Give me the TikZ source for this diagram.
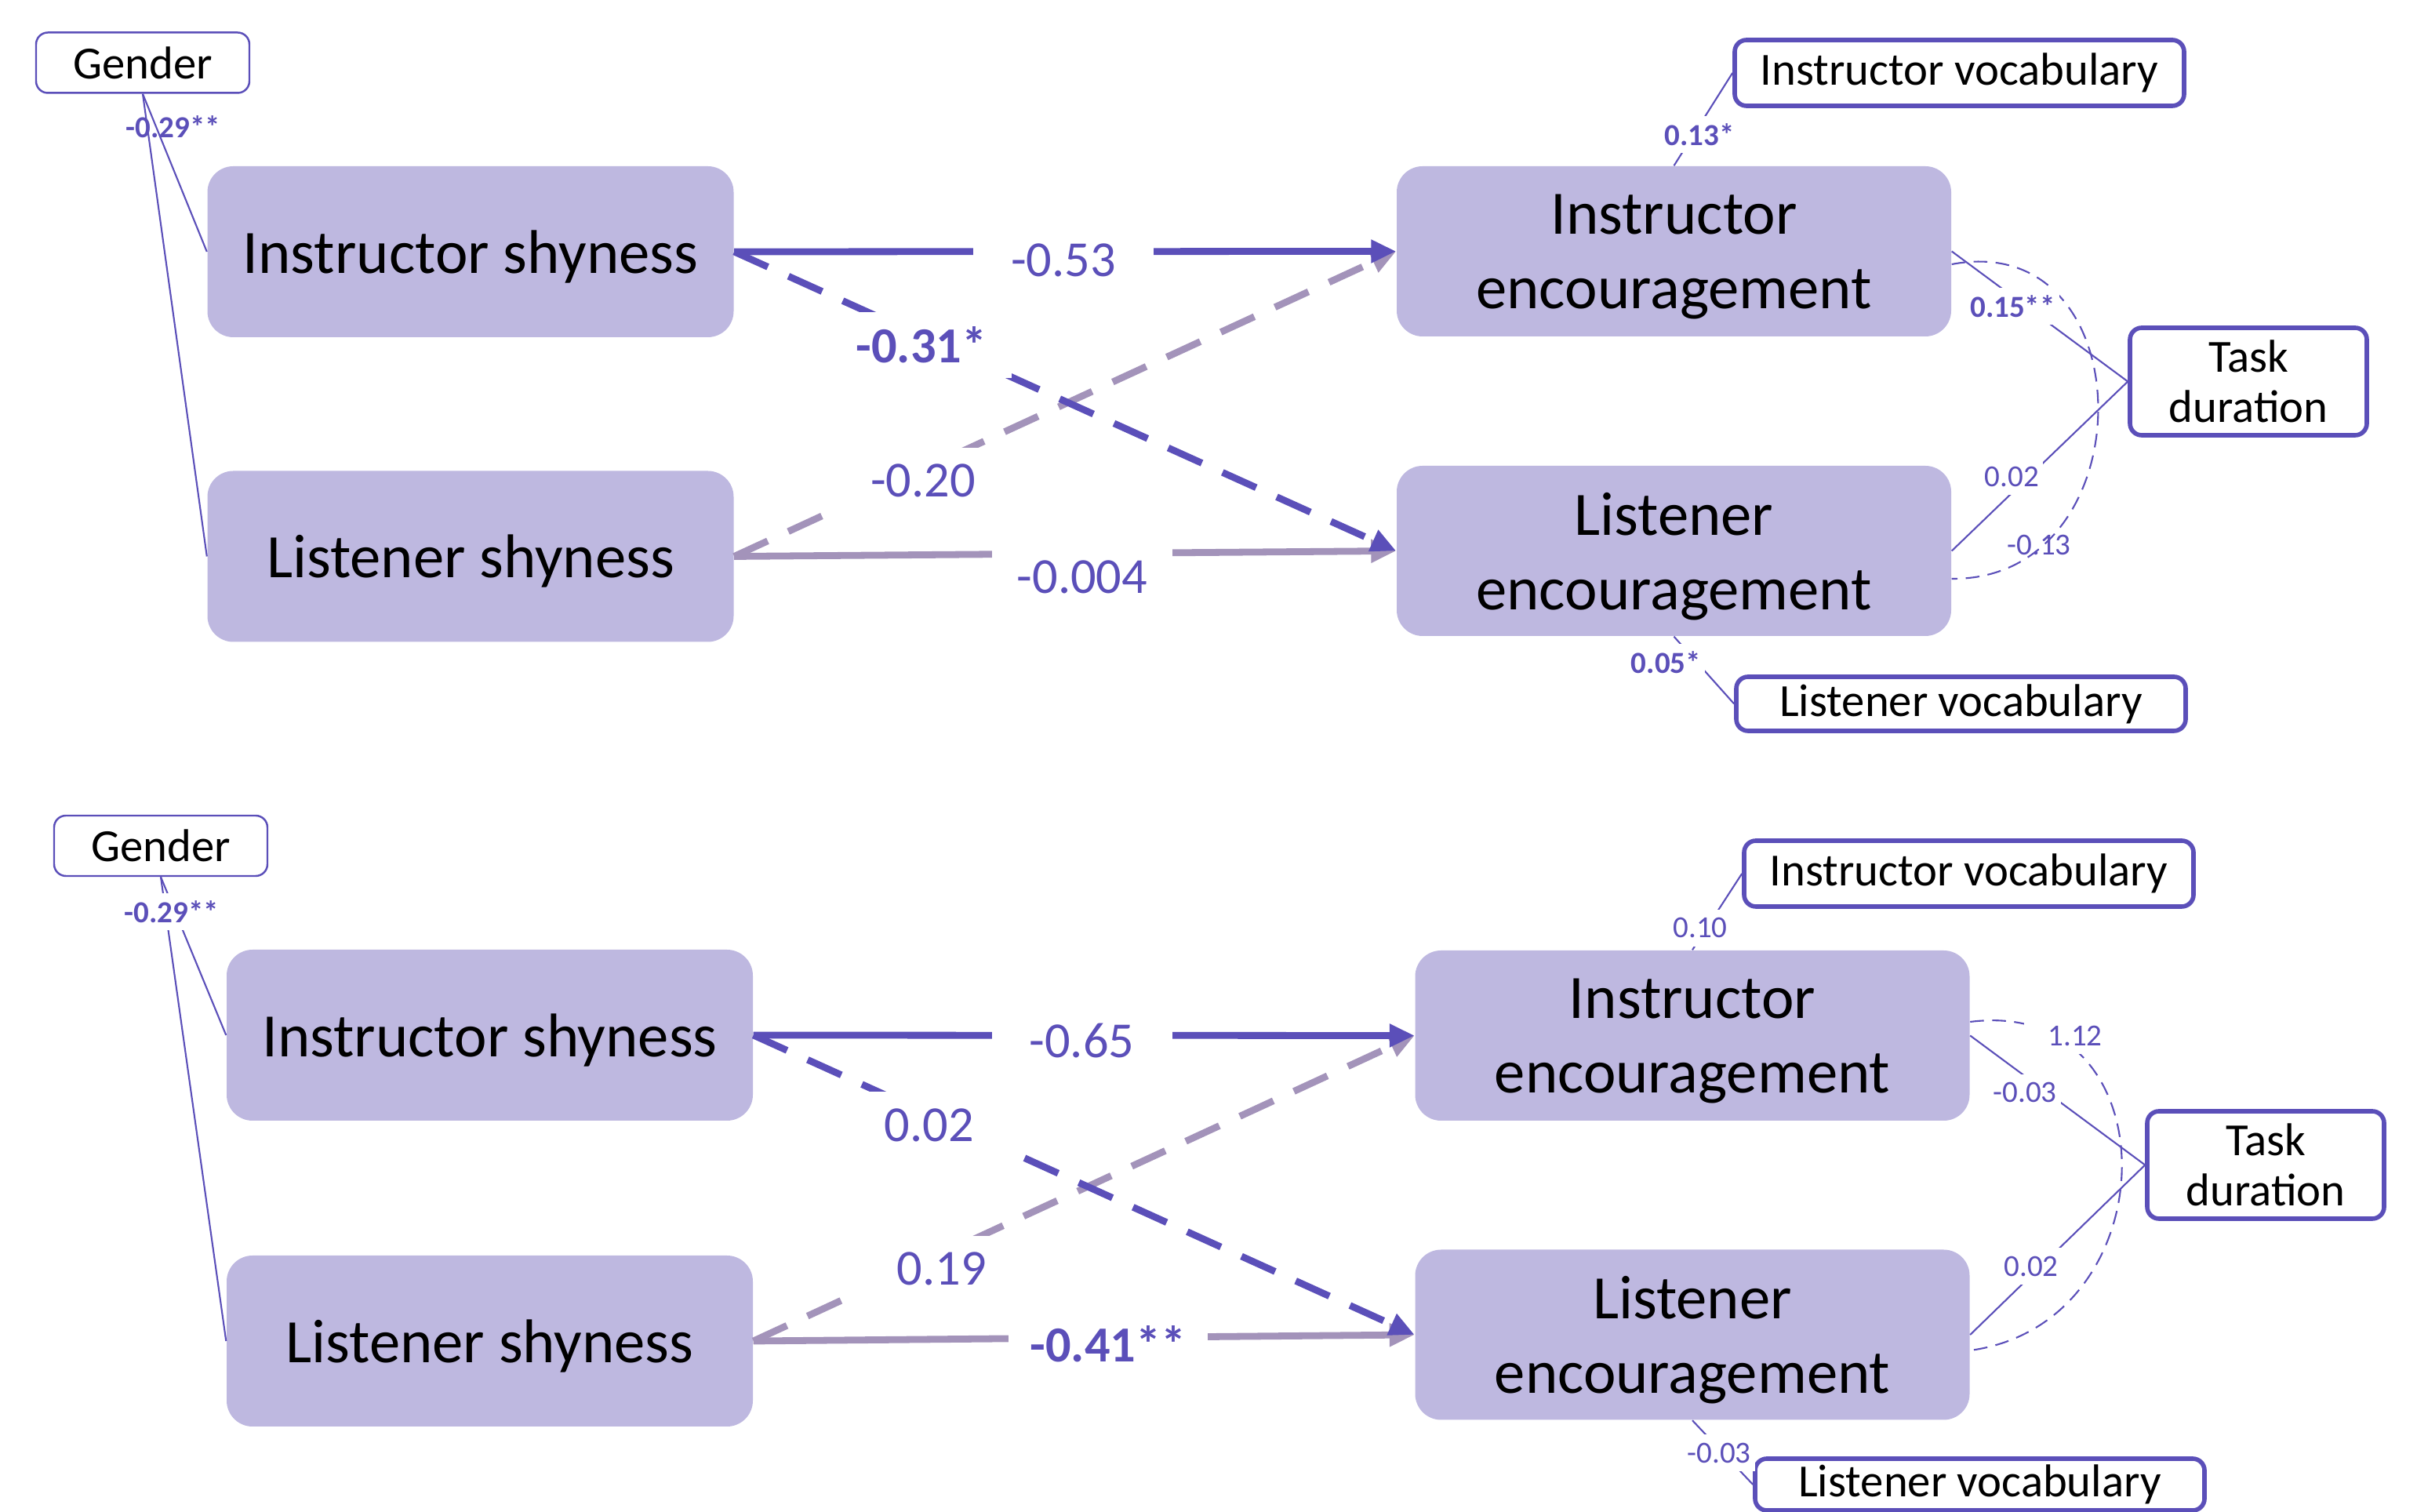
\documentclass[tikz,border=0pt]{standalone}
\usepackage{fontspec}
\setmainfont{Carlito}
\usetikzlibrary{arrows.meta}
\definecolor{dkpurple}{RGB}{91,79,185}
\definecolor{ltpurple}{RGB}{163,147,186}
\definecolor{lavender}{RGB}{190,184,224}

\begin{document}
\begin{tikzpicture}[
    var/.style={fill=lavender, rounded corners=0.33cm, minimum width=6.71cm,
      minimum height=2.18cm, align=center, text depth=0pt,
      font=\fontsize{22.4}{27}\selectfont},
    encvar/.style={var, minimum width=7.07cm, minimum height=2.17cm},
    ctrl/.style={draw=dkpurple, line width=1.6pt, fill=white, rounded corners=0.15cm,
      align=center, inner ysep=1pt, font=\fontsize{16.7}{18.2}\selectfont},
    gend/.style={ctrl, line width=0.7pt, minimum width=2.72cm, minimum height=0.77cm},
    vocab/.style={ctrl, minimum width=5.73cm, minimum height=0.84cm},
    dur/.style={ctrl, minimum width=3.02cm, minimum height=1.37cm},
    effect/.style={line width=2.5pt, -{Triangle[length=0.32cm,width=0.28cm]}},
    dashy/.style={dash pattern=on 13.4pt off 8.2pt},
    link/.style={draw=dkpurple, line width=0.6pt},
    cov/.style={draw=dkpurple, line width=0.6pt, dash pattern=on 5pt off 3pt},
    coef/.style={text=dkpurple, fill=white, inner sep=0pt, minimum width=2.3cm,
      minimum height=0.84cm, font=\fontsize{18.3}{20}\selectfont},
    est/.style={text=dkpurple, inner xsep=1.5pt, inner ysep=0pt, minimum height=0.47cm,
      font=\fontsize{11.1}{12}\selectfont},
    estw/.style={est, fill=white}
  ]
  \useasboundingbox (0,0) rectangle (30.82,19.28);

  % upper model
  \node[gend] (gA) at (1.82,18.48) {Gender};
  \node[var] (isA) at (6.0,16.07) {Instructor shyness};
  \node[var] (lsA) at (6.0,12.185) {Listener shyness};
  \node[encvar] (ieA) at (21.345,16.075) {Instructor\\encouragement};
  \node[encvar] (leA) at (21.345,12.255) {Listener\\encouragement};
  \node[vocab] (ivA) at (24.985,18.35) {Instructor vocabulary};
  \node[dur] (tA) at (28.67,14.415) {Task\\duration};
  \node[vocab, minimum height=0.69cm] (lvA) at (25.005,10.305) {Listener vocabulary};

  \draw[effect, ltpurple] (lsA.east) -- (leA.west);
  \draw[effect, dashy, ltpurple] (lsA.east) -- (ieA.west);
  \draw[effect, dkpurple] (isA.east) -- (ieA.west);
  \draw[effect, dashy, dkpurple] (isA.east) -- (leA.west);

  \draw[link] (gA.south) -- (isA.west);
  \draw[link] (gA.south) -- (lsA.west);
  \draw[link] (ivA.west) -- (ieA.north);
  \draw[link] (ieA.east) -- (tA.west);
  \draw[link] (leA.east) -- (tA.west);
  \draw[link] (leA.south) -- (lvA.west);
  \draw[cov] ([yshift=-0.165cm]ieA.east) .. controls +(2.48,0.47) and +(2.5,-0.02) .. ([yshift=-0.355cm]leA.east);

  \node[coef] (cA1) at (13.56,15.96) {-0.53};
  \node[coef] (cA2) at (11.75,14.88) {\bfseries -0.31*};
  \node[coef] (cA3) at (11.77,13.15) {-0.20};
  \node[coef] (cA4) at (13.80,11.92) {-0.004};
  \node[est] (eA1) at (2.21,17.66) {\bfseries -0.29**};
  \node[estw] (eA2) at (21.67,17.565) {\bfseries 0.13*};
  \node[estw] (eA3) at (25.665,15.375) {\bfseries 0.15**};
  \node[estw] (eA4) at (25.655,13.20) {0.02};
  \node[est] (eA5) at (26.00,12.333) {-0.13};
  \node[estw] (eA6) at (21.245,10.83) {\bfseries 0.05*};

  % lower model
  \node[gend] (gB) at (2.05,8.495) {Gender};
  \node[var] (isB) at (6.245,6.08) {Instructor shyness};
  \node[var] (lsB) at (6.245,2.18) {Listener shyness};
  \node[encvar] (ieB) at (21.58,6.075) {Instructor\\encouragement};
  \node[encvar] (leB) at (21.58,2.26) {Listener\\encouragement};
  \node[vocab] (ivB) at (25.105,8.14) {Instructor vocabulary};
  \node[dur] (tB) at (28.89,4.425) {Task\\duration};
  \node[vocab, minimum height=0.66cm] (lvB) at (25.245,0.35) {Listener vocabulary};

  \draw[effect, ltpurple] (lsB.east) -- (leB.west);
  \draw[effect, dashy, ltpurple] (lsB.east) -- (ieB.west);
  \draw[effect, dkpurple] (isB.east) -- (ieB.west);
  \draw[effect, dashy, dkpurple] (isB.east) -- (leB.west);

  \draw[link] (gB.south) -- (isB.west);
  \draw[link] (gB.south) -- (lsB.west);
  \draw[link] (ivB.west) -- (ieB.north);
  \draw[link] (ieB.east) -- (tB.west);
  \draw[link] (leB.east) -- (tB.west);
  \draw[link] (leB.south) -- (lvB.west);
  \draw[cov] ([yshift=0.175cm]ieB.east) .. controls +(2.59,0.33) and +(2.57,0.35) .. ([yshift=-0.2cm]leB.east);

  \node[coef] (cB1) at (13.795,6.01) {-0.65};
  \node[coef] (cB2) at (11.85,4.935) {0.02};
  \node[coef] (cB3) at (12.01,3.10) {0.19};
  \node[coef, minimum width=2.54cm] (cB4) at (14.13,2.14) {\bfseries -0.41**};
  \node[estw] (eB1) at (2.187,7.653) {\bfseries -0.29**};
  \node[estw] (eB2) at (21.68,7.445) {0.10};
  \node[estw] (eB3) at (25.82,5.345) {-0.03};
  \node[estw, inner xsep=0.3cm] (eB4) at (26.46,6.07) {1.12};
  \node[estw] (eB5) at (25.90,3.13) {0.02};
  \node[estw] (eB6) at (21.92,0.754) {-0.03};
\end{tikzpicture}
\end{document}
